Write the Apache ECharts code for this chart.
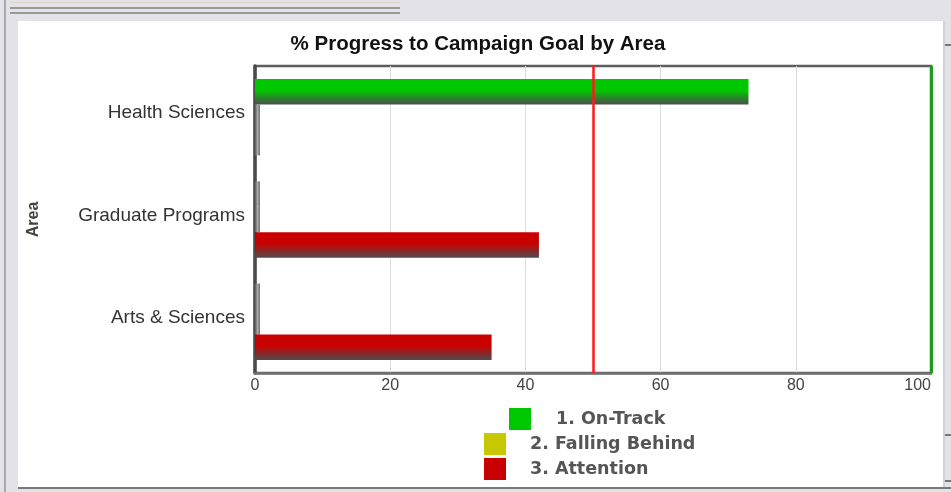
<!DOCTYPE html>
<html><head><meta charset="utf-8">
<script src="https://cdn.jsdelivr.net/npm/echarts@6/dist/echarts.min.js"></script>
<style>html,body{margin:0;padding:0;background:#e2e2e8}#c{width:951px;height:492px}</style>
</head><body><div id="c"></div>
<script>
const categories = ['Health Sciences', 'Graduate Programs', 'Arts & Sciences'];
const seriesNames = ['1. On-Track', '2. Falling Behind', '3. Attention'];
const onTrack = [73, 0, 0];
const fallingBehind = [0, 0, 0];
const attention = [0, 42, 35];
const seriesColors = ['#00c800', '#c8c800', '#c80000'];
const xMin = 0, xMax = 100, xStep = 20;
const thresholdValue = 50;
const goalValue = 100;

const chart = echarts.init(document.getElementById('c'));

function barGrad(c) {
  return new echarts.graphic.LinearGradient(0, 0, 0, 1, [
    { offset: 0, color: c },
    { offset: 0.45, color: c },
    { offset: 1, color: '#4d4d4d' }
  ]);
}
const zeroStyle = {
  color: new echarts.graphic.LinearGradient(0, 0, 1, 0, [
    { offset: 0, color: '#5a5a5a' },
    { offset: 0.5, color: '#a8a8a8' },
    { offset: 1, color: '#707070' }
  ])
};
function mkData(vals) {
  return vals.map(v => v === 0 ? { value: v, itemStyle: zeroStyle } : { value: v });
}
const allVals = [onTrack, fallingBehind, attention];

const series = seriesNames.map((name, i) => ({
  name: name,
  type: 'bar',
  data: mkData(allVals[i]),
  barWidth: 25.5,
  barGap: '0%',
  barMinHeight: 5,
  itemStyle: { color: barGrad(seriesColors[i]) },
  silent: true
}));
series[0].markLine = {
  silent: true,
  symbol: 'none',
  label: { show: false },
  data: [
    { xAxis: thresholdValue, lineStyle: { color: '#ff1a1a', width: 2.5, type: 'solid' } },
    { xAxis: goalValue, lineStyle: { color: '#1e9a1e', width: 3, type: 'solid' } }
  ]
};

function mkLegend(idx, left, top, pad) {
  return {
    data: [{ name: seriesNames[idx], itemStyle: { color: seriesColors[idx] } }],
    left: left, top: top, padding: 0,
    orient: 'vertical',
    icon: 'rect', itemWidth: 22, itemHeight: 22,
    selectedMode: false,
    textStyle: { fontFamily: 'DejaVu Sans', fontWeight: 'bold', fontSize: 17.5, color: '#555555', padding: [0, 0, 0, pad] }
  };
}

const option = {
  backgroundColor: '#e2e2e8',
  animation: false,
  graphic: [
    { type: 'rect', z: -10, shape: { x: 18, y: 21, width: 925, height: 466 }, style: { fill: '#ffffff' } },
    { type: 'rect', z: -10, shape: { x: 4, y: 0, width: 2, height: 492 }, style: { fill: '#a9a9a9' } },
    { type: 'rect', z: -10, shape: { x: 10, y: 2, width: 390, height: 1 }, style: { fill: '#d8d4c4' } },
    { type: 'rect', z: -10, shape: { x: 10, y: 7, width: 390, height: 2 }, style: { fill: '#9a9a94' } },
    { type: 'rect', z: -10, shape: { x: 10, y: 12, width: 390, height: 2 }, style: { fill: '#9a9a94' } },
    { type: 'rect', z: -10, shape: { x: 18, y: 487, width: 933, height: 2 }, style: { fill: '#7a7a72' } },
    { type: 'rect', z: -10, shape: { x: 943, y: 21, width: 2, height: 466 }, style: { fill: '#d0d0d6' } },
    { type: 'rect', z: -10, shape: { x: 945, y: 44, width: 6, height: 2 }, style: { fill: '#777' } },
    { type: 'rect', z: -10, shape: { x: 945, y: 434, width: 6, height: 2 }, style: { fill: '#777' } },
    { type: 'rect', z: -10, shape: { x: 945, y: 480, width: 6, height: 2 }, style: { fill: '#777' } }
  ],
  title: {
    text: '% Progress to Campaign Goal by Area',
    left: 473, top: 29, textAlign: 'center',
    textStyle: { fontFamily: 'Liberation Sans', fontWeight: 'bold', fontSize: 20.5, color: '#111111' }
  },
  legend: [
    mkLegend(0, 509, 408, 20),
    mkLegend(1, 484, 433, 19),
    mkLegend(2, 484, 458, 19)
  ],
  grid: {
    left: 255, right: 20, top: 66, bottom: 119,
    show: true, borderColor: '#5e5e5e', borderWidth: 2.5, backgroundColor: 'transparent'
  },
  xAxis: {
    type: 'value', min: xMin, max: xMax, interval: xStep,
    axisLine: { show: true, lineStyle: { color: '#707070', width: 2.5 } },
    axisTick: { show: false },
    splitLine: { show: true, lineStyle: { color: '#dcdcdc', width: 1 } },
    axisLabel: { fontFamily: 'Liberation Sans', fontSize: 16, color: '#444444', margin: 5, alignMaxLabel: 'right' }
  },
  yAxis: {
    type: 'category', data: categories, inverse: true,
    name: 'Area', nameLocation: 'middle', nameRotate: 90, nameGap: 213,
    nameTextStyle: { fontFamily: 'Liberation Sans', fontWeight: 'bold', fontSize: 16, color: '#444444' },
    axisLine: { show: true, lineStyle: { color: '#4a4a4a', width: 3.5 } },
    axisTick: { show: false },
    splitLine: { show: false },
    axisLabel: { fontFamily: 'Liberation Sans', fontSize: 19, color: '#333333', margin: 10, verticalAlign: 'bottom', lineHeight: 8 }
  },
  series: series
};
chart.setOption(option);
</script>
</body></html>
